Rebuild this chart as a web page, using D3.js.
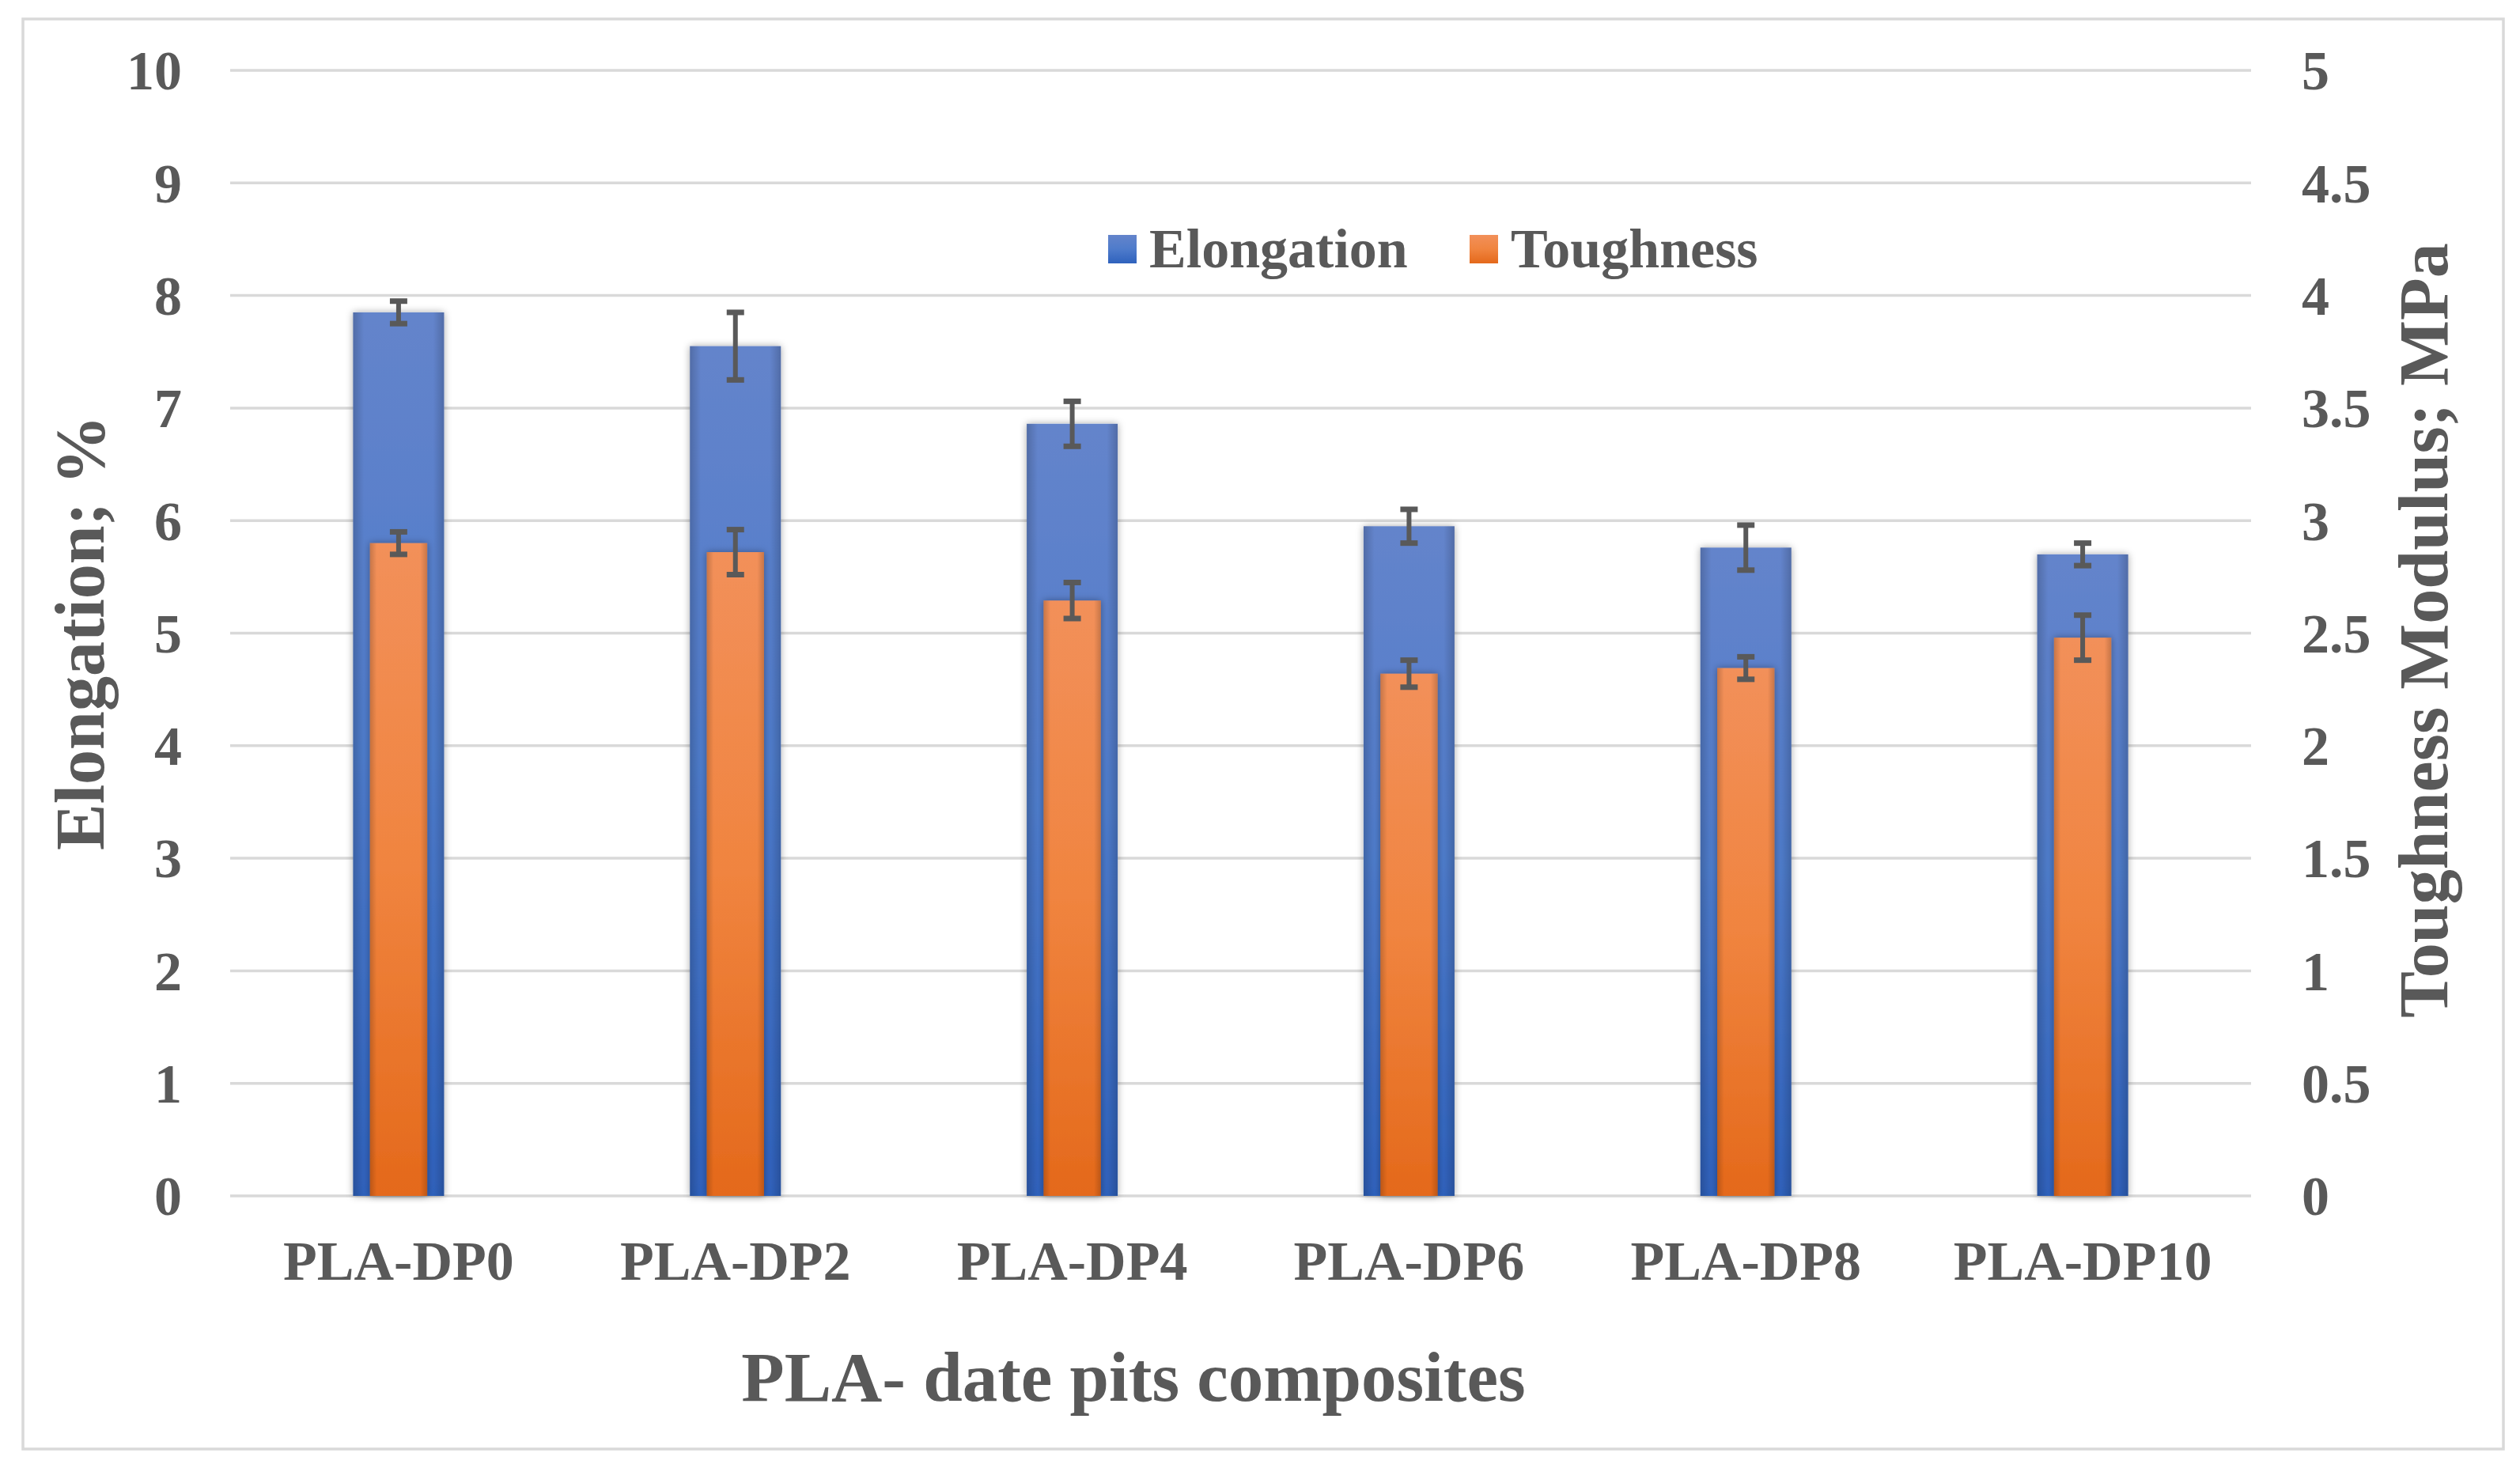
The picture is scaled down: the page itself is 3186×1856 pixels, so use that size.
<!DOCTYPE html>
<html>
<head>
<meta charset="utf-8">
<style>
  body { margin: 0; background: #fff; }
  text { font-family: "Liberation Serif", "Times New Roman", serif; font-weight: bold; fill: #595959; }
</style>
</head>
<body>
<script src="https://cdn.jsdelivr.net/npm/d3@7"></script>
<script>
// data
var categories = ["PLA-DP0", "PLA-DP2", "PLA-DP4", "PLA-DP6", "PLA-DP8", "PLA-DP10"];
var elongation = [7.85, 7.55, 6.86, 5.95, 5.76, 5.70];
var elongationErr = [0.10, 0.30, 0.20, 0.15, 0.20, 0.10];
var toughness = [2.90, 2.86, 2.645, 2.32, 2.345, 2.48];
var toughnessErr = [0.05, 0.10, 0.08, 0.06, 0.05, 0.10];
var leftTicks = [0, 1, 2, 3, 4, 5, 6, 7, 8, 9, 10];
var rightTicks = [0, 0.5, 1, 1.5, 2, 2.5, 3, 3.5, 4, 4.5, 5];
var seriesNames = ["Elongation", "Toughness"];

var width = 3186, height = 1856;
var plot = {left: 291, right: 2846, top: 89, bottom: 1512};

var svg = d3.select("body").append("svg")
  .attr("width", width)
  .attr("height", height);

// gradients + shadow
var defs = svg.append("defs");
var gBlue = defs.append("linearGradient").attr("id", "gBlue")
  .attr("x1", 0).attr("y1", 0).attr("x2", 0).attr("y2", 1);
gBlue.append("stop").attr("offset", "0%").attr("stop-color", "#6484cb");
gBlue.append("stop").attr("offset", "50%").attr("stop-color", "#4e7bcb");
gBlue.append("stop").attr("offset", "100%").attr("stop-color", "#2f62bd");
var gOrange = defs.append("linearGradient").attr("id", "gOrange")
  .attr("x1", 0).attr("y1", 0).attr("x2", 0).attr("y2", 1);
gOrange.append("stop").attr("offset", "0%").attr("stop-color", "#f2905a");
gOrange.append("stop").attr("offset", "50%").attr("stop-color", "#f0843f");
gOrange.append("stop").attr("offset", "100%").attr("stop-color", "#e4691b");
var gEdge = defs.append("linearGradient").attr("id", "gEdge")
  .attr("x1", 0).attr("y1", 0).attr("x2", 1).attr("y2", 0);
gEdge.append("stop").attr("offset", "0%").attr("stop-color", "#000").attr("stop-opacity", 0.18);
gEdge.append("stop").attr("offset", "12%").attr("stop-color", "#000").attr("stop-opacity", 0);
gEdge.append("stop").attr("offset", "88%").attr("stop-color", "#000").attr("stop-opacity", 0);
gEdge.append("stop").attr("offset", "100%").attr("stop-color", "#000").attr("stop-opacity", 0.18);
var shadow = defs.append("filter").attr("id", "shadow")
  .attr("x", "-30%").attr("y", "-10%").attr("width", "160%").attr("height", "120%");
shadow.append("feDropShadow").attr("dx", 0).attr("dy", 0).attr("stdDeviation", 5)
  .attr("flood-color", "#000").attr("flood-opacity", 0.35);

// outer frame
svg.append("rect")
  .attr("x", 29).attr("y", 24)
  .attr("width", 3136).attr("height", 1808)
  .attr("fill", "#fff")
  .attr("stroke", "#d9d9d9")
  .attr("stroke-width", 3.5);

// scales
var x = d3.scaleBand().domain(categories).range([plot.left, plot.right]).padding(0);
var yL = d3.scaleLinear().domain([0, 10]).range([plot.bottom, plot.top]);
var yR = d3.scaleLinear().domain([0, 5]).range([plot.bottom, plot.top]);

// gridlines
svg.append("g").selectAll("line").data(leftTicks).enter().append("line")
  .attr("x1", plot.left).attr("x2", plot.right)
  .attr("y1", function(d) {return yL(d);})
  .attr("y2", function(d) {return yL(d);})
  .attr("stroke", "#d9d9d9")
  .attr("stroke-width", 3.5);

// axes
var axL = svg.append("g").attr("transform", "translate(" + 230 + ",0)")
  .call(d3.axisLeft(yL).tickValues(leftTicks).tickSize(0).tickPadding(0).tickFormat(d3.format("~g")));
var axR = svg.append("g").attr("transform", "translate(" + 2910 + ",0)")
  .call(d3.axisRight(yR).tickValues(rightTicks).tickSize(0).tickPadding(0).tickFormat(d3.format("~g")));
var axB = svg.append("g").attr("transform", "translate(0," + 1618 + ")")
  .call(d3.axisBottom(x).tickSize(0).tickPadding(0));
[axL, axR, axB].forEach(function(a) {
  a.select(".domain").remove();
  a.selectAll("text")
    .attr("fill", "#595959")
    .style("font-size", "70px")
    .style("font-family", "'Liberation Serif', 'Times New Roman', serif")
    .style("font-weight", "bold");
});
axL.selectAll("text").attr("dy", "0.34em");
axR.selectAll("text").attr("dy", "0.34em");
axB.selectAll("text").attr("dy", 0);

// bars
var blueW = x.bandwidth() * 0.27;
var orangeW = x.bandwidth() * 0.17;
var capW = 22;

function drawSeries(vals, errs, y, w, fill, cls) {
  var g = svg.append("g").attr("class", cls);
  g.selectAll("rect.bar").data(vals).enter().append("rect")
    .attr("class", "bar")
    .attr("x", function(d, i) {return x(categories[i]) + x.bandwidth() / 2 - w / 2;})
    .attr("y", function(d) {return y(d);})
    .attr("width", w)
    .attr("height", function(d) {return y(0) - y(d);})
    .attr("fill", fill)
    .attr("filter", "url(#shadow)");
  g.selectAll("rect.edge").data(vals).enter().append("rect")
    .attr("class", "edge")
    .attr("x", function(d, i) {return x(categories[i]) + x.bandwidth() / 2 - w / 2;})
    .attr("y", function(d) {return y(d);})
    .attr("width", w)
    .attr("height", function(d) {return y(0) - y(d);})
    .attr("fill", "url(#gEdge)");
  var eb = g.selectAll("g.err").data(vals).enter().append("g").attr("class", "err")
    .attr("stroke", "#595959");
  eb.append("line")
    .attr("x1", function(d, i) {return x(categories[i]) + x.bandwidth() / 2;})
    .attr("x2", function(d, i) {return x(categories[i]) + x.bandwidth() / 2;})
    .attr("y1", function(d, i) {return y(d + errs[i]);})
    .attr("y2", function(d, i) {return y(d - errs[i]);})
    .attr("stroke-width", 6);
  [1, -1].forEach(function(s) {
    eb.append("line")
      .attr("x1", function(d, i) {return x(categories[i]) + x.bandwidth() / 2 - capW / 2;})
      .attr("x2", function(d, i) {return x(categories[i]) + x.bandwidth() / 2 + capW / 2;})
      .attr("y1", function(d, i) {return y(d + s * errs[i]);})
      .attr("y2", function(d, i) {return y(d + s * errs[i]);})
      .attr("stroke-width", 7);
  });
}
drawSeries(elongation, elongationErr, yL, blueW, "url(#gBlue)", "elong");
drawSeries(toughness, toughnessErr, yR, orangeW, "url(#gOrange)", "tough");

// axis titles
svg.append("text")
  .attr("transform", "translate(131,800) rotate(-90)")
  .attr("text-anchor", "middle")
  .style("font-size", "88px")
  .text("Elongation; %");
svg.append("text")
  .attr("transform", "translate(3094,797) rotate(-90)")
  .attr("text-anchor", "middle")
  .style("font-size", "88px")
  .text("Toughness Modulus; MPa");
svg.append("text")
  .attr("x", 1433).attr("y", 1771)
  .attr("text-anchor", "middle")
  .style("font-size", "89px")
  .text("PLA- date pits composites");

// legend
var legendX = [1401, 1858];
var legendFill = ["url(#gBlue)", "url(#gOrange)"];
var lg = svg.append("g").selectAll("g").data(seriesNames).enter().append("g")
  .attr("transform", function(d, i) {return "translate(" + legendX[i] + ",297)";});
lg.append("rect").attr("width", 36).attr("height", 36)
  .attr("fill", function(d, i) {return legendFill[i];});
lg.append("text").attr("x", 52).attr("y", 41)
  .style("font-size", "70px")
  .text(function(d) {return d;});
</script>
</body>
</html>
